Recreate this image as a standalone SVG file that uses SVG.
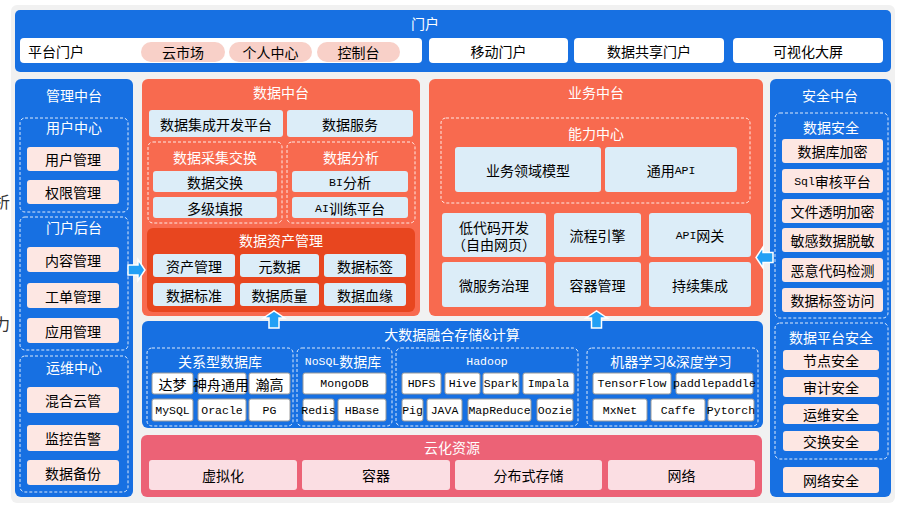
<svg xmlns="http://www.w3.org/2000/svg" width="905" height="513" viewBox="0 0 905 513">
<style>
.blue{fill:#1770e2}
.org{fill:#f86a4f}
.dorg{fill:#e8461f}
.pink{fill:#ec6276}
.dash{fill:none;stroke:#fff;stroke-opacity:.85;stroke-dasharray:3 2;stroke-width:1}
.itb{fill:#dcedf8}
.itp{fill:#fde7e3}
.itc{fill:#fbdee3}
.itw{fill:#fff;stroke:#9a9a9a;stroke-width:1}
.pill{fill:#f8d0c8}
.wb{fill:#fff}
text{font-family:"Noto Sans CJK SC","Noto Sans",sans-serif;font-size:14px;fill:#000;text-anchor:middle;dominant-baseline:central}
.tw{fill:#fff}
.m{font-family:"Liberation Mono",monospace;font-size:11.5px}
.arr{fill:#22a0f5;stroke:#fff;stroke-width:1.5}
</style>
<defs>
<path id="arR" d="M0,-5 H10 V-10.5 L17,0 L10,10.5 V5 H0 Z"/>
</defs>
<rect x="11" y="5" width="884" height="498" rx="6" fill="#f1f1f1"/>
<text x="10" y="201" style="text-anchor:end;font-size:16px;fill:#333">析</text>
<text x="10" y="323" style="text-anchor:end;font-size:16px;fill:#333">力</text>

<g id="portal">
<rect class="blue" x="15" y="10" width="876" height="62" rx="5"/>
<text class="tw" x="425" y="23">门户</text>
<rect class="wb" x="20" y="38" width="402" height="25" rx="4"/>
<text x="28" y="50.5" style="text-anchor:start">平台门户</text>
<rect class="pill" x="141" y="42" width="84" height="20" rx="10"/>
<text x="183" y="52">云市场</text>
<rect class="pill" x="229" y="42" width="83" height="20" rx="10"/>
<text x="270.5" y="52">个人中心</text>
<rect class="pill" x="317" y="42" width="83" height="20" rx="10"/>
<text x="358.5" y="52">控制台</text>
<rect class="wb" x="429" y="38" width="139" height="25" rx="4"/>
<text x="498.5" y="50.5">移动门户</text>
<rect class="wb" x="574" y="38" width="150" height="25" rx="4"/>
<text x="649" y="50.5">数据共享门户</text>
<rect class="wb" x="733" y="38" width="150" height="25" rx="4"/>
<text x="808" y="50.5">可视化大屏</text>
</g>

<g id="mgmt">
<rect class="blue" x="15" y="79" width="118" height="418" rx="6"/>
<text class="tw" x="74" y="95">管理中台</text>
<rect class="dash" x="20" y="118" width="108" height="94" rx="5"/>
<text class="tw" x="74" y="127">用户中心</text>
<rect class="itp" x="27" y="147" width="92" height="24" rx="3"/>
<text x="73" y="159">用户管理</text>
<rect class="itp" x="27" y="180" width="92" height="24" rx="3"/>
<text x="73" y="192">权限管理</text>
<rect class="dash" x="20" y="217" width="108" height="133" rx="5"/>
<text class="tw" x="74" y="227">门户后台</text>
<rect class="itp" x="27" y="247" width="92" height="25" rx="3"/>
<text x="73" y="259.5">内容管理</text>
<rect class="itp" x="27" y="283" width="92" height="25" rx="3"/>
<text x="73" y="295.5">工单管理</text>
<rect class="itp" x="27" y="318" width="92" height="25" rx="3"/>
<text x="73" y="330.5">应用管理</text>
<rect class="dash" x="20" y="356" width="108" height="136" rx="5"/>
<text class="tw" x="74" y="367">运维中心</text>
<rect class="itp" x="27" y="387" width="92" height="26" rx="3"/>
<text x="73" y="400">混合云管</text>
<rect class="itp" x="27" y="425" width="92" height="26" rx="3"/>
<text x="73" y="438">监控告警</text>
<rect class="itp" x="27" y="460" width="92" height="25" rx="3"/>
<text x="73" y="472.5">数据备份</text>
</g>

<g id="datamid">
<rect class="org" x="142" y="79" width="278" height="237" rx="6"/>
<text class="tw" x="281" y="92">数据中台</text>
<rect class="itb" x="149" y="110" width="134" height="27" rx="3"/>
<text x="216" y="123.5">数据集成开发平台</text>
<rect class="itb" x="287" y="110" width="126" height="27" rx="3"/>
<text x="350" y="123.5">数据服务</text>
<rect class="dash" x="148" y="142" width="134" height="81" rx="5"/>
<text class="tw" x="215" y="157">数据采集交换</text>
<rect class="itb" x="153" y="171" width="124" height="21" rx="3"/>
<text x="215" y="181.5">数据交换</text>
<rect class="itb" x="153" y="197" width="124" height="21" rx="3"/>
<text x="215" y="207.5">多级填报</text>
<rect class="dash" x="287" y="142" width="128" height="81" rx="5"/>
<text class="tw" x="351" y="157">数据分析</text>
<rect class="itb" x="292" y="171" width="116" height="21" rx="3"/>
<text x="350" y="181.5"><tspan class="m">BI</tspan>分析</text>
<rect class="itb" x="292" y="197" width="116" height="21" rx="3"/>
<text x="350" y="207.5"><tspan class="m">AI</tspan>训练平台</text>
<rect class="dorg" x="147" y="228" width="268" height="84" rx="6"/>
<text class="tw" x="281" y="240">数据资产管理</text>
<rect class="itb" x="153" y="254" width="82" height="23" rx="3"/>
<text x="194" y="265.5">资产管理</text>
<rect class="itb" x="240" y="254" width="79" height="23" rx="3"/>
<text x="279.5" y="265.5">元数据</text>
<rect class="itb" x="324" y="254" width="82" height="23" rx="3"/>
<text x="365" y="265.5">数据标签</text>
<rect class="itb" x="153" y="283" width="82" height="23" rx="3"/>
<text x="194" y="294.5">数据标准</text>
<rect class="itb" x="240" y="283" width="79" height="23" rx="3"/>
<text x="279.5" y="294.5">数据质量</text>
<rect class="itb" x="324" y="283" width="82" height="23" rx="3"/>
<text x="365" y="294.5">数据血缘</text>
</g>

<g id="bizmid">
<rect class="org" x="429" y="79" width="334" height="237" rx="6"/>
<text class="tw" x="596" y="92">业务中台</text>
<rect class="dash" x="441" y="118" width="309" height="85" rx="5"/>
<text class="tw" x="596" y="133">能力中心</text>
<rect class="itb" x="455" y="147" width="146" height="45" rx="3"/>
<text x="528" y="169.5">业务领域模型</text>
<rect class="itb" x="605" y="147" width="132" height="45" rx="3"/>
<text x="671" y="169.5">通用<tspan class="m">API</tspan></text>
<rect class="itb" x="442" y="213" width="104" height="44" rx="3"/>
<text x="494" y="226.5">低代码开发<tspan x="494" dy="17">（自由网页）</tspan></text>
<rect class="itb" x="554" y="213" width="87" height="44" rx="3"/>
<text x="597.5" y="235">流程引擎</text>
<rect class="itb" x="649" y="213" width="102" height="44" rx="3"/>
<text x="700" y="235"><tspan class="m">API</tspan>网关</text>
<rect class="itb" x="442" y="262" width="104" height="45" rx="3"/>
<text x="494" y="284.5">微服务治理</text>
<rect class="itb" x="554" y="262" width="87" height="45" rx="3"/>
<text x="597.5" y="284.5">容器管理</text>
<rect class="itb" x="649" y="262" width="102" height="45" rx="3"/>
<text x="700" y="284.5">持续集成</text>
</g>

<g id="security">
<rect class="blue" x="770" y="79" width="121" height="418" rx="6"/>
<text class="tw" x="830" y="95">安全中台</text>
<rect class="dash" x="775" y="113" width="113" height="205" rx="5"/>
<text class="tw" x="831" y="127">数据安全</text>
<rect class="itp" x="782" y="139" width="101" height="24" rx="3"/>
<text x="832.5" y="151">数据库加密</text>
<rect class="itp" x="782" y="169" width="101" height="24" rx="3"/>
<text x="832.5" y="181"><tspan class="m">Sql</tspan>审核平台</text>
<rect class="itp" x="782" y="199" width="101" height="24" rx="3"/>
<text x="832.5" y="211">文件透明加密</text>
<rect class="itp" x="782" y="228" width="101" height="24" rx="3"/>
<text x="832.5" y="240">敏感数据脱敏</text>
<rect class="itp" x="782" y="258" width="101" height="24" rx="3"/>
<text x="832.5" y="270">恶意代码检测</text>
<rect class="itp" x="782" y="288" width="101" height="24" rx="3"/>
<text x="832.5" y="300">数据标签访问</text>
<rect class="dash" x="775" y="323" width="113" height="136" rx="5"/>
<text class="tw" x="831" y="337">数据平台安全</text>
<rect class="itp" x="783" y="350" width="96" height="20" rx="3"/>
<text x="831" y="360">节点安全</text>
<rect class="itp" x="783" y="377" width="96" height="20" rx="3"/>
<text x="831" y="387">审计安全</text>
<rect class="itp" x="783" y="404" width="96" height="20" rx="3"/>
<text x="831" y="414">运维安全</text>
<rect class="itp" x="783" y="431" width="96" height="20" rx="3"/>
<text x="831" y="441">交换安全</text>
<rect class="itp" x="783" y="467" width="96" height="26" rx="3"/>
<text x="831" y="480">网络安全</text>
</g>

<g id="bigdata">
<rect class="blue" x="142" y="321" width="621" height="107" rx="6"/>
<text class="tw" x="452" y="334">大数据融合存储&amp;计算</text>
<rect class="dash" x="147" y="348" width="146" height="78" rx="5"/>
<text class="tw" x="220" y="361">关系型数据库</text>
<rect class="itw" x="152" y="373" width="41" height="21" rx="2"/>
<text x="172.5" y="383.5">达梦</text>
<rect class="itw" x="198" y="373" width="48" height="21" rx="2"/>
<text x="221" y="383.5">神舟通用</text>
<rect class="itw" x="249" y="373" width="41" height="21" rx="2"/>
<text x="269.5" y="383.5">瀚高</text>
<rect class="itw" x="152" y="399" width="41" height="22" rx="2"/>
<text class="m" x="172.5" y="410">MySQL</text>
<rect class="itw" x="198" y="399" width="48" height="22" rx="2"/>
<text class="m" x="222" y="410">Oracle</text>
<rect class="itw" x="249" y="399" width="41" height="22" rx="2"/>
<text class="m" x="269.5" y="410">PG</text>

<rect class="dash" x="297" y="348" width="95" height="78" rx="5"/>
<text class="tw" x="343" y="361"><tspan class="m">NoSQL</tspan>数据库</text>
<rect class="itw" x="303" y="373" width="83" height="21" rx="2"/>
<text class="m" x="344.5" y="383.5">MongoDB</text>
<rect class="itw" x="303" y="399" width="31" height="22" rx="2"/>
<text class="m" x="318.5" y="410">Redis</text>
<rect class="itw" x="338" y="399" width="48" height="22" rx="2"/>
<text class="m" x="362" y="410">HBase</text>

<rect class="dash" x="396" y="348" width="182" height="78" rx="5"/>
<text class="tw m" x="487" y="361">Hadoop</text>
<rect class="itw" x="402" y="373" width="39" height="21" rx="2"/>
<text class="m" x="421.5" y="383.5">HDFS</text>
<rect class="itw" x="445" y="373" width="35" height="21" rx="2"/>
<text class="m" x="462.5" y="383.5">Hive</text>
<rect class="itw" x="483" y="373" width="36" height="21" rx="2"/>
<text class="m" x="501" y="383.5">Spark</text>
<rect class="itw" x="523" y="373" width="51" height="21" rx="2"/>
<text class="m" x="548.5" y="383.5">Impala</text>
<rect class="itw" x="402" y="399" width="21" height="22" rx="2"/>
<text class="m" x="412.5" y="410">Pig</text>
<rect class="itw" x="427" y="399" width="35" height="22" rx="2"/>
<text class="m" x="444.5" y="410">JAVA</text>
<rect class="itw" x="468" y="399" width="63" height="22" rx="2"/>
<text class="m" x="499.5" y="410">MapReduce</text>
<rect class="itw" x="537" y="399" width="36" height="22" rx="2"/>
<text class="m" x="555" y="410">Oozie</text>

<rect class="dash" x="587" y="348" width="171" height="78" rx="5"/>
<text class="tw" x="671" y="361">机器学习&amp;深度学习</text>
<rect class="itw" x="593" y="373" width="78" height="21" rx="2"/>
<text class="m" x="632" y="383.5">TensorFlow</text>
<rect class="itw" x="676" y="373" width="77" height="21" rx="2"/>
<text class="m" x="714.5" y="383.5">paddlepaddle</text>
<rect class="itw" x="593" y="399" width="54" height="22" rx="2"/>
<text class="m" x="620" y="410">MxNet</text>
<rect class="itw" x="651" y="399" width="54" height="22" rx="2"/>
<text class="m" x="678" y="410">Caffe</text>
<rect class="itw" x="708" y="399" width="46" height="22" rx="2"/>
<text class="m" x="731" y="410">Pytorch</text>
</g>

<g id="cloud">
<rect class="pink" x="141" y="435" width="621" height="62" rx="6"/>
<text class="tw" x="452" y="447">云化资源</text>
<rect class="itc" x="149" y="460" width="148" height="30" rx="3"/>
<text x="223" y="475">虚拟化</text>
<rect class="itc" x="302" y="460" width="148" height="30" rx="3"/>
<text x="376" y="475">容器</text>
<rect class="itc" x="455" y="460" width="147" height="30" rx="3"/>
<text x="528.5" y="475">分布式存储</text>
<rect class="itc" x="608" y="460" width="147" height="30" rx="3"/>
<text x="681.5" y="475">网络</text>
</g>

<g id="connectors">
<use href="#arR" class="arr" transform="translate(128,270)"/>
<use href="#arR" class="arr" transform="translate(773,257.5) scale(-1,1)"/>
<use href="#arR" class="arr" transform="translate(274,328) rotate(-90)"/>
<use href="#arR" class="arr" transform="translate(596.5,328) rotate(-90)"/>
</g>
</svg>
